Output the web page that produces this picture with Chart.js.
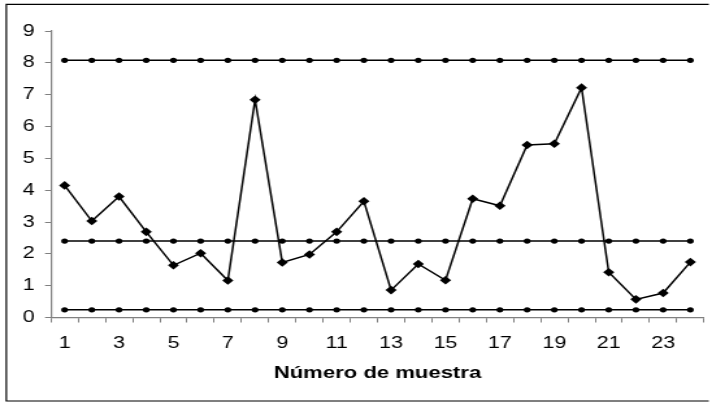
<!DOCTYPE html>
<html>
<head>
<meta charset="utf-8">
<script src="https://cdn.jsdelivr.net/npm/chart.js@4/dist/chart.umd.min.js"></script>
<style>
  html, body { margin: 0; padding: 0; background: #fff; overflow: hidden; }
  #wrap { width: 712px; height: 402px; overflow: hidden; }
  /* the reference picture is stretched sideways, so the canvas is too */
  #myChart { transform: scaleX(1.2993); transform-origin: 0 0; }
</style>
</head>
<body>
<div id="wrap"><canvas id="myChart" width="548" height="402"></canvas></div>
<script>
const muestras = ['1','2','3','4','5','6','7','8','9','10','11','12','13','14','15','16','17','18','19','20','21','22','23','24'];
const valores = [4.15, 3.03, 3.80, 2.69, 1.64, 2.02, 1.16, 6.84, 1.73, 1.98, 2.69, 3.65,
                 0.86, 1.68, 1.17, 3.73, 3.51, 5.42, 5.46, 7.22, 1.42, 0.57, 0.77, 1.74];
const limiteSuperior = 8.08;
const lineaCentral = 2.40;
const limiteInferior = 0.24;
const ticksY = [0, 1, 2, 3, 4, 5, 6, 7, 8, 9];

const ctx = document.getElementById('myChart');
const fuente = "'Liberation Sans', Arial, sans-serif";
const gris = '#808080';

// marco exterior del grafico (el borde derecho queda fuera de la imagen)
const marco = {
  id: 'marco',
  beforeDraw(chart) {
    const c = chart.ctx;
    c.save();
    c.fillStyle = '#fff';
    c.fillRect(0, 0, chart.width, chart.height);
    c.strokeStyle = '#000';
    c.lineWidth = 1.2;
    c.beginPath();
    c.moveTo(chart.width - 2.5, 4.3);
    c.lineTo(4.85, 4.3);
    c.lineTo(4.85, 401);
    c.lineTo(chart.width - 2.5, 401);
    c.stroke();
    c.restore();
  }
};

const constante = v => muestras.map(() => v);
const lineaLimite = v => ({
  data: constante(v),
  borderColor: '#000',
  backgroundColor: '#000',
  borderWidth: 1.5,
  pointStyle: 'circle',
  pointRadius: 2.6,
  pointBorderWidth: 0,
  fill: false
});

new Chart(ctx, {
  type: 'line',
  data: {
    labels: muestras,
    datasets: [
      {
        data: valores,
        borderColor: '#000',
        backgroundColor: '#000',
        borderWidth: 1.5,
        pointStyle: 'rectRot',
        pointRadius: 4.3,
        pointBorderWidth: 0,
        fill: false
      },
      lineaLimite(limiteSuperior),
      lineaLimite(lineaCentral),
      lineaLimite(limiteInferior)
    ]
  },
  options: {
    responsive: false,
    devicePixelRatio: 1,
    animation: false,
    layout: { padding: { left: 0, right: 6.2, top: 31, bottom: 0 } },
    plugins: { legend: { display: false }, tooltip: { enabled: false } },
    elements: { line: { tension: 0 } },
    scales: {
      x: {
        offset: true,
        grid: { offset: true, drawOnChartArea: false, drawTicks: true, tickLength: 5, color: gris },
        border: { color: gris, width: 1.2 },
        ticks: {
          autoSkip: false,
          maxRotation: 0,
          padding: 11,
          color: '#000',
          font: { family: fuente, size: 16.5 },
          callback: function(value, i) {
            return i % 2 === 0 ? muestras[i] : '';  // solo las muestras impares
          }
        },
        title: {
          display: true,
          text: 'Número de muestra',
          color: '#000',
          font: { family: fuente, size: 17, weight: 'bold' },
          padding: { top: 0, bottom: 18 }
        },
        afterFit: s => { s.height = 84.5; }
      },
      y: {
        min: 0,
        max: 9,
        grid: { drawOnChartArea: false, drawTicks: true, tickLength: 4.6, color: gris },
        border: { color: gris, width: 1.2 },
        afterBuildTicks: s => { s.ticks = ticksY.map(v => ({ value: v })); },
        ticks: {
          padding: 8,
          color: '#000',
          font: { family: fuente, size: 16.5 }
        },
        afterFit: s => { s.width = 39.25; }
      }
    }
  },
  plugins: [marco]
});
</script>
</body>
</html>
